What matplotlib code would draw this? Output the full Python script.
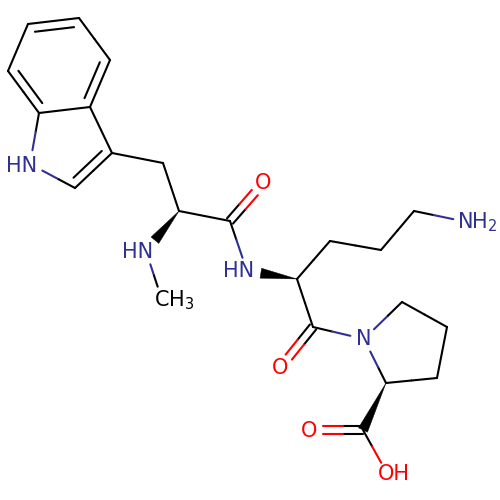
import numpy as np
import matplotlib
matplotlib.use("Agg")
import matplotlib.pyplot as plt

BLUE = '#2f2f94'
RED = '#ff0000'
BLACK = '#000000'

# atom positions, in pixels
atom_x = [28, 79, 110, 90, 39, 8, 30, 75, 112, 163, 179, 230, 264, 247, 297, 330,
          381, 414, 467, 313, 280, 364, 402, 447, 437, 386, 363, 309, 388, 146, 162]
atom_y = [24, 18, 60, 107, 113, 71, 164, 188, 153, 163, 211, 221, 182, 271, 279, 241,
          250, 211, 222, 327, 368, 339, 302, 327, 378, 383, 430, 430, 475, 251, 300]
atom_el = ['C', 'C', 'C', 'C', 'C', 'C', 'N', 'C', 'C', 'C', 'C', 'C', 'O', 'N', 'C', 'C',
           'C', 'C', 'N', 'C', 'O', 'N', 'C', 'C', 'C', 'C', 'C', 'O', 'O', 'N', 'L']

single_bonds = [(1, 2), (3, 4), (5, 0), (4, 6), (6, 7), (8, 3), (8, 9), (9, 10), (10, 11),
                (11, 13), (14, 15), (15, 16), (16, 17), (17, 18), (14, 19), (19, 21),
                (21, 22), (22, 23), (23, 24), (24, 25), (25, 21), (26, 28), (29, 30)]
ring_doubles = [(0, 1, 0), (2, 3, 0), (4, 5, 0), (7, 8, 1)]
ring_centres_x = [59, 62]
ring_centres_y = [65, 143]
oxo_doubles = [(11, 12), (19, 20), (26, 27)]
wedges = [(10, 29), (14, 13), (25, 26)]

label_text = ['HN', 'HN', 'HN', 'CH$_3$', 'NH$_2$', 'N', 'O', 'O', 'O', 'OH']
label_x = [6, 223, 122, 154, 457, 356, 255, 272, 301, 378]
label_y = [172, 277, 258, 306, 228, 345, 189, 374, 437, 480]
label_color = [BLUE, BLUE, BLUE, BLACK, BLUE, BLUE, RED, RED, RED, RED]

colors = {'C': BLACK, 'L': BLACK, 'N': BLUE, 'O': RED}
labelled = ['N', 'O', 'L']
gap = 14
lw = 1.5

fig = plt.figure(figsize=(5, 5), dpi=100)
ax = fig.add_axes([0, 0, 1, 1])
ax.set_xlim(0, 500)
ax.set_ylim(500, 0)
ax.axis('off')


def trim(i, j):
    p = np.array([atom_x[i], atom_y[i]], dtype=float)
    q = np.array([atom_x[j], atom_y[j]], dtype=float)
    u = (q - p) / np.linalg.norm(q - p)
    a = p + u * gap if atom_el[i] in labelled else p
    b = q - u * gap if atom_el[j] in labelled else q
    return a, b


def two_tone(a, b, i, j):
    m = (a + b) / 2
    ax.plot([a[0], m[0]], [a[1], m[1]], color=colors[atom_el[i]], lw=lw, solid_capstyle='round')
    ax.plot([m[0], b[0]], [m[1], b[1]], color=colors[atom_el[j]], lw=lw, solid_capstyle='round')


for i, j in single_bonds:
    a, b = trim(i, j)
    two_tone(a, b, i, j)

for i, j, c in ring_doubles:
    a, b = trim(i, j)
    two_tone(a, b, i, j)
    u = (b - a) / np.linalg.norm(b - a)
    n = np.array([-u[1], u[0]])
    centre = np.array([ring_centres_x[c], ring_centres_y[c]])
    if np.dot(centre - a, n) < 0:
        n = -n
    ax.plot([a[0] + n[0] * 8.5 + u[0] * 6, b[0] + n[0] * 8.5 - u[0] * 6],
            [a[1] + n[1] * 8.5 + u[1] * 6, b[1] + n[1] * 8.5 - u[1] * 6],
            color=BLACK, lw=lw, solid_capstyle='round')

for i, j in oxo_doubles:
    a, b = trim(i, j)
    u = (b - a) / np.linalg.norm(b - a)
    n = np.array([-u[1], u[0]])
    two_tone(a + n * 4, b + n * 4, i, j)
    two_tone(a - n * 4, b - n * 4, i, j)

for i, j in wedges:
    a, b = trim(i, j)
    u = (b - a) / np.linalg.norm(b - a)
    n = np.array([-u[1], u[0]])
    ax.fill([a[0], b[0] + n[0] * 5, b[0] - n[0] * 5],
            [a[1], b[1] + n[1] * 5, b[1] - n[1] * 5],
            color=BLACK, lw=0.3)

for t, x, y, c in zip(label_text, label_x, label_y, label_color):
    ax.text(x, y, t, color=c, fontsize=15, ha='left', va='baseline', family='DejaVu Sans')

fig.savefig('out.png', dpi=100)
